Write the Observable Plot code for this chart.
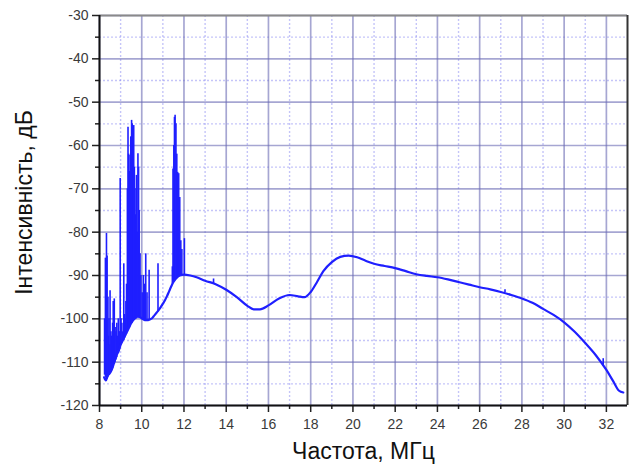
<!DOCTYPE html>
<html>
<head>
<meta charset="utf-8">
<script src="https://cdn.jsdelivr.net/npm/d3@7"></script>
<script src="https://cdn.jsdelivr.net/npm/@observablehq/plot@0.6"></script>
<style>
  html, body { margin: 0; padding: 0; background: #fff; }
  #chart { width: 630px; height: 473px; }
</style>
</head>
<body>
<div id="chart"></div>
<script>
// Smooth spectrum envelope (frequency in MHz, level in dB)
const freq = [8.22, 8.3, 8.4, 8.5, 8.6, 8.7, 8.8, 8.9, 9.0, 9.1, 9.2, 9.3, 9.4, 9.5, 9.6, 9.7, 9.8, 9.9,
  10.0, 10.1, 10.2, 10.3, 10.4, 10.5, 10.6, 10.7, 10.8, 10.9, 11.0, 11.1, 11.2, 11.3, 11.4, 11.5, 11.6, 11.7, 11.8,
  12.0, 12.3, 12.6, 13.0, 13.5, 14.0, 14.5, 15.0, 15.3, 15.6, 16.0, 16.5, 17.0, 17.4, 17.7, 18.0, 18.3, 18.6,
  19.0, 19.4, 19.8, 20.2, 20.6, 21.0, 21.5, 22.0, 22.5, 23.0, 23.5, 24.0, 24.5, 25.0, 25.5, 26.0, 26.5, 27.0,
  27.5, 28.0, 28.5, 29.0, 29.5, 30.0, 30.5, 31.0, 31.5, 32.0, 32.3, 32.6, 32.8];
const level = [-113.5, -114.2, -113.0, -112.5, -111.5, -110.0, -108.5, -107.5, -106.0, -105.0, -104.0, -103.0, -102.0, -101.0, -100.3, -99.8, -99.5, -99.6,
  -99.9, -100.2, -100.3, -100.3, -100.1, -99.8, -99.2, -98.6, -98.0, -97.3, -96.5, -95.7, -94.7, -93.6, -92.5, -91.5, -90.8, -90.3, -90.0,
  -89.8, -90.0, -90.4, -91.2, -92.0, -93.3, -95.0, -97.0, -97.8, -97.8, -96.9, -95.3, -94.5, -94.8, -95.0, -93.8, -91.5, -89.0,
  -86.9, -85.7, -85.4, -85.8, -86.6, -87.3, -87.8, -88.3, -89.0, -89.7, -90.1, -90.4, -90.9, -91.5, -92.1, -92.7, -93.2, -93.8,
  -94.5, -95.3, -96.3, -97.7, -99.1, -100.8, -103.0, -105.6, -108.4, -111.8, -114.2, -116.6, -117.0];

// Narrow spectral lines: frequency, peak level, floor level
const spikeFreq = [8.24, 8.28, 8.31, 8.33, 8.36, 8.40, 8.43, 8.45, 8.48, 8.50, 8.54, 8.58, 8.62, 8.65, 8.70, 8.74, 8.78, 8.82, 8.85, 8.89, 8.92, 8.95, 8.98, 9.02, 9.06, 9.10, 9.15, 9.18, 9.22, 9.25,
  9.28, 9.32, 9.35, 9.38, 9.42, 9.45, 9.48, 9.52, 9.55, 9.58, 9.62, 9.65, 9.68, 9.72, 9.75, 9.78, 9.82, 9.85, 9.88, 9.92, 9.96,
  10.02, 10.08, 10.14, 10.19, 10.25, 10.35, 10.77,
  11.45, 11.48, 11.52, 11.55, 11.58, 11.62, 11.66, 11.70, 11.75, 11.80, 11.85, 11.90, 12.02,
  13.4, 27.2, 31.85];
const spikeTop = [-100.0, -86.0, -96.0, -80.3, -85.5, -95.0, -104.0, -100.0, -106.0, -93.5, -103.0, -104.0, -101.0, -96.0, -95.4, -102.0, -103.0, -101.0, -104.0, -100.0, -103.0, -103.0, -67.6, -100.0, -101.0, -103.0, -87.3, -99.0, -100.0, -96.0,
  -92.0, -70.0, -55.8, -62.0, -66.0, -62.3, -58.0, -54.2, -55.0, -60.0, -55.4, -65.0, -70.0, -76.0, -66.9, -80.0, -61.9, -65.0, -75.0, -85.0, -90.0,
  -94.0, -90.0, -92.0, -85.0, -94.0, -88.8, -87.3,
  -88.0, -65.4, -60.0, -53.5, -53.0, -55.0, -62.0, -66.2, -66.5, -72.0, -82.0, -84.0, -81.5,
  -90.8, -93.3, -109.2];
const spikeBase = [-113.0, -113.5, -114.0, -114.0, -113.0, -113.5, -113.0, -113.0, -112.5, -112.5, -112.0, -112.0, -111.5, -111.0, -110.5, -110.0, -109.5, -109.0, -108.0, -108.0, -107.5, -107.0, -106.5, -106.0, -105.5, -105.0, -105.0, -104.5, -104.0, -103.5,
  -103.5, -103.0, -102.5, -102.0, -102.0, -101.5, -101.0, -101.0, -101.0, -100.5, -100.3, -100.2, -100.0, -100.0, -99.8, -99.6, -99.5, -99.5, -99.6, -99.7, -99.9,
  -100.0, -100.2, -100.2, -100.3, -100.3, -100.3, -98.4,
  -92.0, -91.8, -91.5, -91.3, -91.0, -90.8, -90.6, -90.4, -90.3, -90.2, -90.1, -90.0, -89.8,
  -91.8, -94.0, -111.0];

// Axis ticks
const xTicks = [8, 10, 12, 14, 16, 18, 20, 22, 24, 26, 28, 30, 32];
const xMinor = [9, 11, 13, 15, 17, 19, 21, 23, 25, 27, 29, 31];
const yTicks = [-120, -110, -100, -90, -80, -70, -60, -50, -40, -30];
const yMinor = [-115, -105, -95, -85, -75, -65, -55, -45, -35];

const curve = freq.map((f, i) => ({f, db: level[i]}));
const spikes = spikeFreq.map((f, i) => ({f, top: spikeTop[i], base: spikeBase[i]}));

const lineColor = "#1f1fff";
const font = "'Liberation Sans', Arial, sans-serif";

const chart = Plot.plot({
  width: 630,
  height: 473,
  marginLeft: 99,
  marginRight: 3,
  marginTop: 15,
  marginBottom: 68,
  style: {background: "#fff", fontFamily: font, color: "#222", overflow: "visible"},
  x: {domain: [8, 33], label: null},
  y: {domain: [-120, -30], label: null},
  marks: [
    // minor grid (dotted)
    Plot.gridX(xMinor, {stroke: "#7f7ff0", strokeOpacity: 0.45, strokeWidth: 1.4, strokeDasharray: "2,2"}),
    Plot.gridY(yMinor, {stroke: "#7f7ff0", strokeOpacity: 0.45, strokeWidth: 1.4, strokeDasharray: "2,2"}),
    // major grid
    Plot.gridX(xTicks, {stroke: "#6a6ab4", strokeOpacity: 0.6, strokeWidth: 1.7}),
    Plot.gridY(yTicks, {stroke: "#6a6ab4", strokeOpacity: 0.6, strokeWidth: 1.7}),
    // frame top and right
    Plot.ruleY([-30], {stroke: "#8a8a8a", strokeWidth: 2}),
    Plot.ruleX([33], {stroke: "#333", strokeWidth: 2}),
    // spectrum
    Plot.ruleX(spikes, {x: "f", y1: "base", y2: "top", stroke: lineColor, strokeWidth: 1.6}),
    Plot.line(curve, {x: "f", y: "db", stroke: lineColor, strokeWidth: 2.2, curve: "monotone-x"}),
    // axes
    Plot.axisX(xMinor, {tickSize: 4, tickFormat: () => "", strokeWidth: 1.5, label: null}),
    Plot.axisY(yMinor, {tickSize: 4, tickFormat: () => "", strokeWidth: 1.5, label: null}),
    Plot.axisX(xTicks, {tickSize: 7, tickPadding: 7, tickFormat: d => String(d), fontSize: 14, strokeWidth: 1.5, fill: "#3a3a3a", label: null}),
    Plot.axisY(yTicks, {tickSize: 7, tickPadding: 4, tickFormat: d => String(d), fontSize: 14, strokeWidth: 1.5, fill: "#3a3a3a", label: null}),
    Plot.ruleX([8], {stroke: "#111", strokeWidth: 2}),
    Plot.ruleY([-120], {stroke: "#111", strokeWidth: 2}),
    // axis titles
    Plot.text(["Частота, МГц"], {frameAnchor: "bottom", dy: 53, fontSize: 23, fill: "#111", fontFamily: font}),
    Plot.text(["Інтенсивність, дБ"], {frameAnchor: "left", textAnchor: "middle", dx: -75, dy: -8, rotate: -90, fontSize: 23, fill: "#111", fontFamily: font})
  ]
});

document.getElementById("chart").appendChild(chart);
</script>
</body>
</html>
